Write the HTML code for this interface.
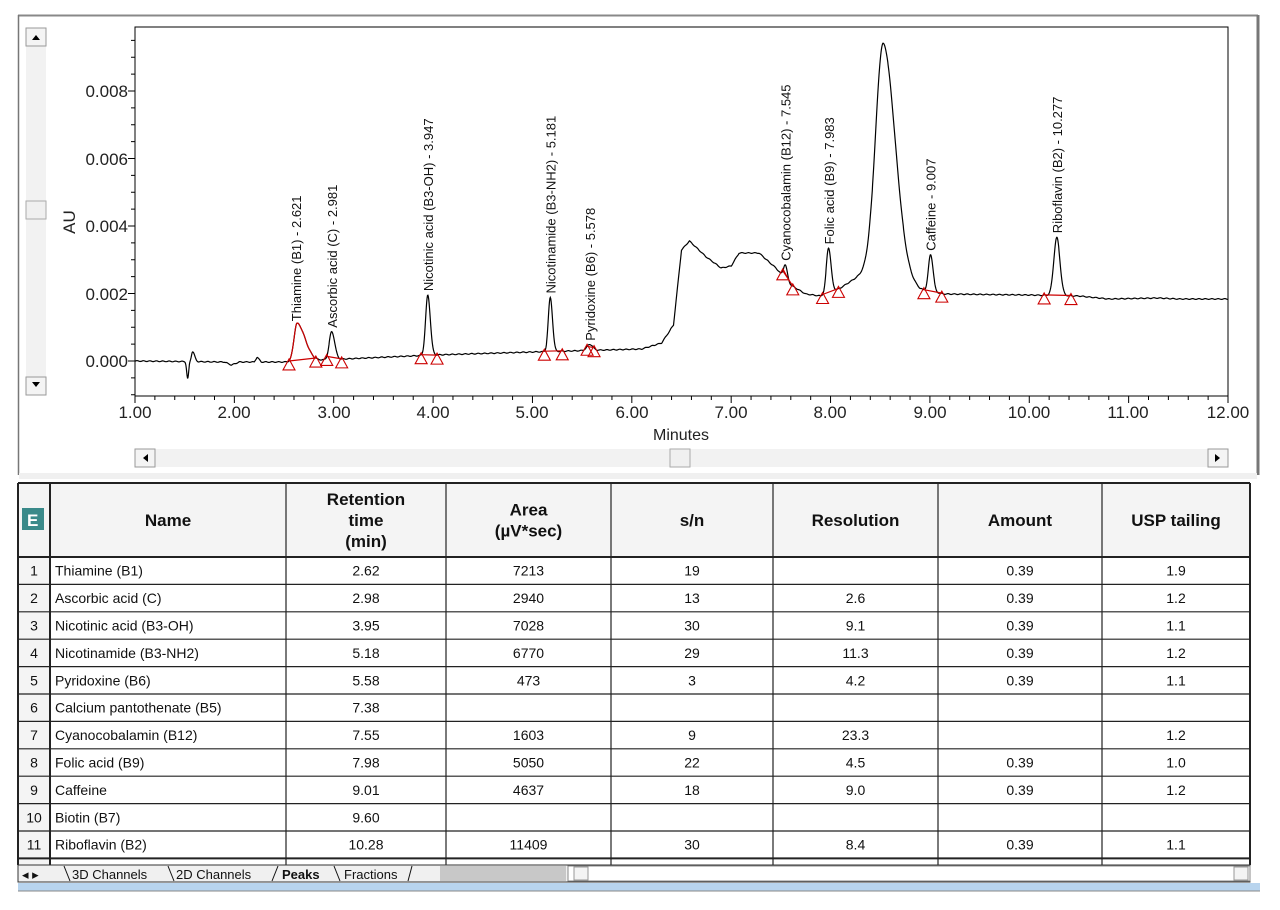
<!DOCTYPE html>
<html><head><meta charset="utf-8"><style>
html,body{margin:0;padding:0;background:#fff;}
svg{display:block;font-family:"Liberation Sans",Arial,sans-serif;}
</style></head><body>
<svg id="s" width="1280" height="910" viewBox="0 0 1280 910" xmlns="http://www.w3.org/2000/svg">
<rect x="0" y="0" width="1280" height="910" fill="#fff"/>
<line x1="18" y1="15.5" x2="1258" y2="15.5" stroke="#888" stroke-width="2"/>
<line x1="18.5" y1="15" x2="18.5" y2="475" stroke="#777" stroke-width="1.5"/>
<line x1="1258" y1="15" x2="1258" y2="475" stroke="#777" stroke-width="3"/>
<rect x="19" y="473" width="1238" height="6" fill="#f0f0f0"/>
<rect x="26" y="28" width="20" height="367" fill="#f2f2f2"/>
<rect x="26" y="28" width="20" height="18" fill="#f4f4f4" stroke="#999"/>
<path d="M32 40 L40 40 L36 35 Z" fill="#000"/>
<rect x="26" y="201" width="20" height="18" fill="#f0f0f0" stroke="#aaa"/>
<rect x="26" y="377" width="20" height="18" fill="#f4f4f4" stroke="#999"/>
<path d="M32 382 L40 382 L36 387 Z" fill="#000"/>
<rect x="135" y="449" width="1093" height="18" fill="#f2f2f2"/>
<rect x="135" y="449" width="20" height="18" fill="#f4f4f4" stroke="#999"/>
<path d="M148 454 L148 462 L143 458 Z" fill="#000"/>
<rect x="670" y="449" width="20" height="18" fill="#f0f0f0" stroke="#aaa"/>
<rect x="1208" y="449" width="20" height="18" fill="#f4f4f4" stroke="#999"/>
<path d="M1215 454 L1215 462 L1220 458 Z" fill="#000"/>
<rect x="135" y="27" width="1093" height="369" fill="none" stroke="#000" stroke-width="1"/>
<g id="ticks" stroke="#000" stroke-width="1"></g>
<g font-size="17" fill="#222" text-anchor="end">
<text x="128" y="97">0.008</text>
<text x="128" y="165">0.006</text>
<text x="128" y="232">0.004</text>
<text x="128" y="300">0.002</text>
<text x="128" y="367">0.000</text>
</g>
<text transform="translate(75,222) rotate(-90)" font-size="17" text-anchor="middle" fill="#222">AU</text>
<g font-size="17" fill="#222" text-anchor="middle">
<text x="135" y="418">1.00</text><text x="234" y="418">2.00</text><text x="334" y="418">3.00</text>
<text x="433" y="418">4.00</text><text x="532" y="418">5.00</text><text x="632" y="418">6.00</text>
<text x="731" y="418">7.00</text><text x="830" y="418">8.00</text><text x="930" y="418">9.00</text>
<text x="1029" y="418">10.00</text><text x="1128" y="418">11.00</text><text x="1228" y="418">12.00</text>
</g>
<text x="681" y="440" font-size="16" text-anchor="middle" fill="#222">Minutes</text>
<path id="curve" fill="none" stroke="#000" stroke-width="1.2"/>
<path id="red" fill="none" stroke="#c00" stroke-width="1.2"/>
<g id="tri" fill="none" stroke="#c00" stroke-width="1.1"></g>
<g id="lbl" font-size="13" fill="#111"></g>
<g id="tbl"></g>
<rect x="18" y="865" width="1232" height="17" fill="#f0f0f0" stroke="#333" stroke-width="1"/>
<rect x="568" y="866" width="682" height="15" fill="#fff" stroke="#888"/>
<rect x="440" y="866" width="126" height="15" fill="#c8c8c8"/>
<g font-size="13" fill="#111">
<text x="22" y="879">◂ ▸</text>
<text x="72" y="879">3D Channels</text>
<text x="176" y="879">2D Channels</text>
<text x="282" y="879" font-weight="bold">Peaks</text>
<text x="344" y="879">Fractions</text>
</g>
<path d="M64 866 L70 881 M168 866 L174 881 M272 881 L278 866 M334 866 L340 881 M412 866 L408 881" stroke="#111" fill="none"/>
<rect x="574" y="867" width="14" height="13" fill="#f4f4f4" stroke="#999"/>
<rect x="1234" y="867" width="14" height="13" fill="#f4f4f4" stroke="#999"/>
<rect x="18" y="883" width="1242" height="8" fill="#b8d4ee"/>
<line x1="18" y1="891" x2="1260" y2="891" stroke="#888"/>
</svg>
<script>
(function(){
var NS="http://www.w3.org/2000/svg";
function X(t){return 135+(t-1)*99.36;}
var base=[[1,361],[1.9,362],[1.97,365],[2.05,362],[2.2,362],[2.23,357],[2.27,362],[2.5,362],[3.1,359],[4,355],[5,352],[6.1,349],[6.3,343],[6.42,325],[6.5,250],[6.58,241],[6.75,257],[6.9,268],[7.0,266],[7.08,253],[7.28,253],[7.45,268],[7.6,285],[7.75,294],[7.9,296],[8.1,288],[8.3,275],[8.4,268],[8.75,283],[8.9,290],[9.15,294],[10,295],[10.5,296],[10.8,299],[11.3,298],[11.5,299],[12,299]];
function B(t){for(var i=0;i<base.length-1;i++){if(t<=base[i+1][0]){var a=base[i],b=base[i+1];return a[1]+(b[1]-a[1])*(t-a[0])/(b[0]-a[0]);}}return 299;}
var pk=[[1.53,-17,.01,.01],[1.58,10,.012,.02],[2.63,38,.03,.08],[2.98,28,.025,.03],[3.947,60,.022,.025],[5.18,54,.02,.022],[5.578,6,.03,.03],[7.545,14,.018,.02],[7.98,45,.022,.025],[8.53,230,.075,.12],[9.007,37,.022,.025],[10.277,58,.03,.032]];
function Y(t){var y=B(t);for(var i=0;i<pk.length;i++){var p=pk[i],d=t-p[0],s=d<0?p[2]:p[3];y-=p[1]*Math.exp(-d*d/(2*s*s));}
 y+=Math.sin(t*97)*0.4;return y;}
var d="";for(var t=1;t<=12.0001;t+=0.004){d+=(d?"L":"M")+X(t).toFixed(1)+" "+Y(t).toFixed(1);}
document.getElementById("curve").setAttribute("d",d);
var r="";for(var t=2.55;t<=2.82;t+=0.004){r+=(r?"L":"M")+X(t).toFixed(1)+" "+Y(t).toFixed(1);}
var segs=[[2.55,2.82],[2.93,3.08],[3.88,4.04],[5.12,5.3],[5.55,5.62],[7.52,7.62],[7.92,8.08],[8.94,9.12],[10.15,10.42]];
segs.forEach(function(s){r+="M"+X(s[0]).toFixed(1)+" "+Y(s[0]).toFixed(1)+"L"+X(s[1]).toFixed(1)+" "+Y(s[1]).toFixed(1);});
document.getElementById("red").setAttribute("d",r);
var tg=document.getElementById("tri");
segs.forEach(function(s){[s[0],s[1]].forEach(function(t){var x=X(t),y=Y(t);var p=document.createElementNS(NS,"path");p.setAttribute("d","M"+(x-6)+" "+(y+9)+"L"+(x+6)+" "+(y+9)+"L"+x+" "+(y-2)+"Z");tg.appendChild(p);});});
var labs=[[2.621,"Thiamine (B1) - 2.621"],[2.981,"Ascorbic acid (C) - 2.981"],[3.947,"Nicotinic acid (B3-OH) - 3.947"],[5.181,"Nicotinamide (B3-NH2) - 5.181"],[5.578,"Pyridoxine (B6) - 5.578"],[7.545,"Cyanocobalamin (B12) - 7.545"],[7.983,"Folic acid (B9) - 7.983"],[9.007,"Caffeine - 9.007"],[10.277,"Riboflavin (B2) - 10.277"]];
var lg=document.getElementById("lbl");
labs.forEach(function(l){var x=X(l[0])+5,y=Y(l[0])-4;var e=document.createElementNS(NS,"text");e.setAttribute("transform","translate("+x.toFixed(1)+","+y.toFixed(1)+") rotate(-90)");e.textContent=l[1];lg.appendChild(e);});
var tk=document.getElementById("ticks");
function ln(a,b,c,d2){var e=document.createElementNS(NS,"line");e.setAttribute("x1",a);e.setAttribute("y1",b);e.setAttribute("x2",c);e.setAttribute("y2",d2);tk.appendChild(e);}
for(var i=0;i<=55;i++){var x=135+i*1093/55;ln(x,396,x,i%5==0?403:400);}
for(var v=-0.001;v<=0.0098;v+=0.0005){var y=361-v*33750;var maj=Math.abs(Math.round(v/0.002)*0.002-v)<1e-6;ln(maj?128:131,y,135,y);}
var cols=[18,50,286,446,611,773,938,1102,1250];
var rows=[["Thiamine (B1)","2.62","7213","19","","0.39","1.9"],["Ascorbic acid (C)","2.98","2940","13","2.6","0.39","1.2"],["Nicotinic acid (B3-OH)","3.95","7028","30","9.1","0.39","1.1"],["Nicotinamide (B3-NH2)","5.18","6770","29","11.3","0.39","1.2"],["Pyridoxine (B6)","5.58","473","3","4.2","0.39","1.1"],["Calcium pantothenate (B5)","7.38","","","","",""],["Cyanocobalamin (B12)","7.55","1603","9","23.3","","1.2"],["Folic acid (B9)","7.98","5050","22","4.5","0.39","1.0"],["Caffeine","9.01","4637","18","9.0","0.39","1.2"],["Biotin (B7)","9.60","","","","",""],["Riboflavin (B2)","10.28","11409","30","8.4","0.39","1.1"]];
var g=document.getElementById("tbl");var h="";
var tTop=483,hb=557,rh=27.4,bot=865;
h+='<rect x="18" y="483" width="1232" height="74" fill="#f4f4f4"/>';
h+='<rect x="18" y="557" width="32" height="308" fill="#f4f4f4"/>';
h+='<rect x="22" y="508" width="22" height="22" fill="#3a8a8a"/><text x="27" y="526" font-size="17" font-weight="bold" fill="#fff">E</text>';
cols.forEach(function(c){h+='<line x1="'+c+'" y1="'+tTop+'" x2="'+c+'" y2="'+bot+'" stroke="#222" stroke-width="'+(c==18||c==50||c==1250?2:1.2)+'"/>';});
h+='<line x1="18" y1="'+tTop+'" x2="1250" y2="'+tTop+'" stroke="#222" stroke-width="2"/>';
h+='<line x1="18" y1="'+hb+'" x2="1250" y2="'+hb+'" stroke="#222" stroke-width="2"/>';
for(var i=1;i<=11;i++){var y=hb+i*rh;h+='<line x1="18" y1="'+y.toFixed(1)+'" x2="1250" y2="'+y.toFixed(1)+'" stroke="#222" stroke-width="'+(i==11?2:1.2)+'"/>';}
var hd=[["Name"],["Retention","time","(min)"],["Area","(µV*sec)"],["s/n"],["Resolution"],["Amount"],["USP tailing"]];
hd.forEach(function(a,j){var cx=(cols[j+1]+cols[j+2])/2;var y0=520-(a.length-1)*10.5+6;a.forEach(function(s,k){h+='<text x="'+cx+'" y="'+(y0+k*21)+'" font-size="17" font-weight="bold" text-anchor="middle" fill="#111">'+s+'</text>';});});
rows.forEach(function(r,i){var y=hb+i*rh+rh/2+5;h+='<text x="34" y="'+y.toFixed(1)+'" font-size="14" text-anchor="middle" fill="#111">'+(i+1)+'</text>';
 h+='<text x="55" y="'+y.toFixed(1)+'" font-size="14" fill="#111">'+r[0]+'</text>';
 for(var j=1;j<7;j++){var cx=(cols[j+1]+cols[j+2])/2;h+='<text x="'+cx+'" y="'+y.toFixed(1)+'" font-size="14" text-anchor="middle" fill="#111">'+r[j]+'</text>';}});
g.innerHTML=h;
})();
</script>
</body></html>
